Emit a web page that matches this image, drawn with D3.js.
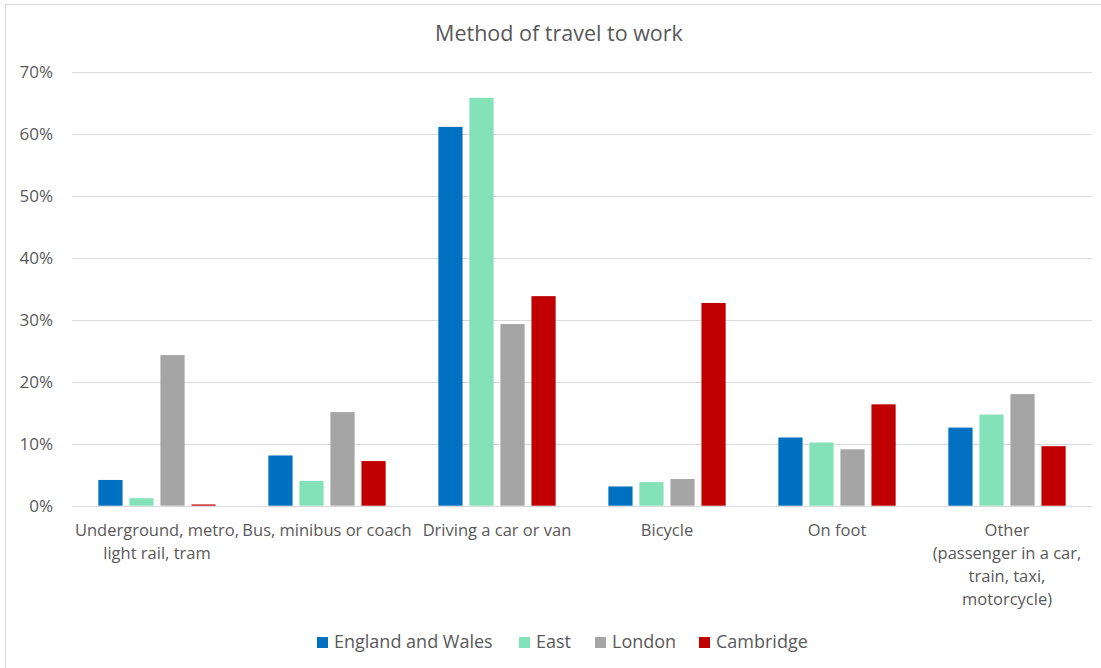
<!DOCTYPE html>
<html><head><meta charset="utf-8">
<script src="https://cdn.jsdelivr.net/npm/d3@7/dist/d3.min.js"></script>
<style>body{margin:0;background:#fff}svg{display:block}</style>
</head><body>
<svg id="c" width="1101" height="668"></svg>
<script>
const categories = [
  ["Underground, metro,", "light rail, tram"],
  ["Bus, minibus or coach"],
  ["Driving a car or van"],
  ["Bicycle"],
  ["On foot"],
  ["Other", "(passenger in a car,", "train, taxi,", "motorcycle)"]
];
const seriesNames = ["England and Wales", "East", "London", "Cambridge"];
const seriesColors = ["#0070c0", "#83e2b7", "#a5a5a5", "#c00000"];
const englandWales = [4.15, 8.1, 61.1, 3.1, 11.0, 12.6];
const east = [1.2, 4.0, 65.8, 3.8, 10.2, 14.7];
const london = [24.3, 15.1, 29.3, 4.3, 9.1, 18.0];
const cambridge = [0.2, 7.2, 33.8, 32.7, 16.35, 9.6];
const yTicks = [0, 10, 20, 30, 40, 50, 60, 70];
const title = "Method of travel to work";

const values = [englandWales, east, london, cambridge];
const font = "'Open Sans', sans-serif";
const textColor = "#595959";
const svg = d3.select("#c");

svg.append("rect").attr("x", 5.5).attr("y", 4.5).attr("width", 1110).attr("height", 700)
  .attr("fill", "#fff").attr("stroke", "#d9d9d9").attr("stroke-width", 1);

const pLeft = 72, pRight = 1092, pTop = 71.7, pBottom = 505.7;
const y = d3.scaleLinear().domain([0, 70]).range([pBottom, pTop]);
const x0 = d3.scaleBand().domain(d3.range(categories.length)).range([pLeft, pRight]).paddingInner(0.31).paddingOuter(0.155);
const x1 = d3.scaleBand().domain(d3.range(seriesNames.length)).range([0, x0.bandwidth()]).paddingInner(0.22);

// gridlines
svg.append("g").selectAll("line").data(yTicks).join("line")
  .attr("x1", pLeft).attr("x2", pRight)
  .attr("y1", d => Math.round(y(d)) + 0.5).attr("y2", d => Math.round(y(d)) + 0.5)
  .attr("stroke", "#d9d9d9").attr("stroke-width", 1);

// y axis labels
const yAxis = svg.append("g").attr("transform", `translate(${pLeft},0)`)
  .call(d3.axisLeft(y).tickValues(yTicks).tickFormat(d => d + "%").tickSize(0).tickPadding(19));
yAxis.select(".domain").remove();
yAxis.selectAll("text").attr("font-family", font).attr("font-size", 17).attr("fill", textColor);

// bars
const groups = svg.append("g").selectAll("g").data(categories).join("g")
  .attr("transform", (d, i) => `translate(${x0(i)},0)`);
groups.selectAll("rect").data((d, i) => values.map((s, j) => ({ j, v: s[i] }))).join("rect")
  .attr("x", d => x1(d.j)).attr("width", x1.bandwidth())
  .attr("y", d => y(d.v)).attr("height", d => y(0) - y(d.v))
  .attr("fill", d => seriesColors[d.j]);

// x labels
const xl = svg.append("g").selectAll("text").data(categories).join("text")
  .attr("x", (d, i) => x0(i) + x0.bandwidth() / 2).attr("y", 536)
  .attr("text-anchor", "middle").attr("font-family", font).attr("font-size", 16.5)
  .attr("fill", textColor);
xl.selectAll("tspan").data(d => d).join("tspan")
  .attr("x", function () { return this.parentNode.getAttribute("x"); })
  .attr("dy", (d, k) => k === 0 ? 0 : 23).text(d => d);

// title
svg.append("text").attr("x", 559).attr("y", 41).attr("text-anchor", "middle")
  .attr("font-family", font).attr("font-size", 21.5).attr("fill", textColor).text(title);

// legend
const legend = svg.append("g");
const legendX = [317, 519, 595, 699];
seriesNames.forEach((n, j) => {
  const g = legend.append("g").attr("transform", `translate(${legendX[j]},637)`);
  g.append("rect").attr("width", 11).attr("height", 11).attr("fill", seriesColors[j]);
  g.append("text").attr("x", 17).attr("y", 10.5).attr("font-family", font).attr("font-size", 18)
    .attr("fill", textColor).text(n);
});
</script>
</body></html>
